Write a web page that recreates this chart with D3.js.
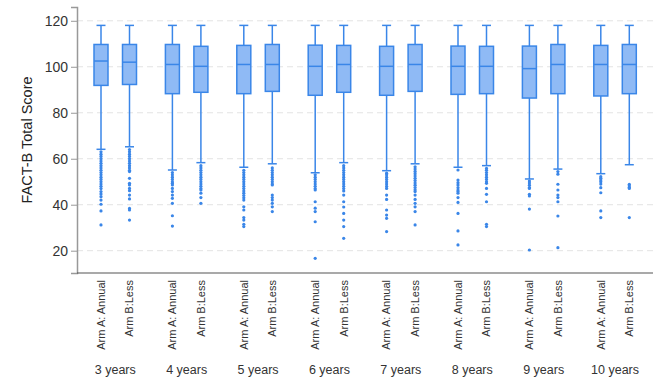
<!DOCTYPE html>
<html><head><meta charset="utf-8">
<script src="https://cdn.jsdelivr.net/npm/d3@7"></script>
<style>body{margin:0;background:#fff}svg{display:block}text{font-family:"Liberation Sans",Arial,sans-serif}</style>
</head><body><svg id="c" width="669" height="389"></svg>
<script>
const years = ["3 years","4 years","5 years","6 years","7 years","8 years","9 years","10 years"];
const arms = ["Arm A: Annual","Arm B:Less"];
const yTicks = [20,40,60,80,100,120];
// per box, order: 3yA,3yB,4yA,4yB,...
const upperWhisker = [118,118,118,118,118,118,118,118,118,118,118,118,118,118,118,118];
const q3 = [109.7,109.7,109.7,108.9,109.3,109.7,109.4,109.3,108.9,109.7,109.0,108.9,109.0,109.7,109.3,109.7];
const median = [102.5,102.0,101.0,100.2,101.0,101.0,100.2,101.0,100.2,101.0,100.2,100.2,99.2,101.0,101.0,101.0];
const q1 = [91.9,92.3,88.3,88.9,88.3,89.3,87.6,88.9,87.6,89.3,88.0,88.3,86.4,88.3,87.3,88.3];
const lowerWhisker = [64.1,65.2,55.1,58.3,56.3,57.8,53.9,58.3,54.8,57.8,56.3,57.0,51.2,55.5,53.5,57.4];
const outliers = [
  [63,62,61,60,59,58,57,56,55,54,53,52,51,50,49,48,47,45.7,44.7,43.5,42,40.2,37.3,31.2],
  [64,63,62,61,60,59,58,57,56,55,54.4,51.5,49.3,48.6,47.1,46.1,44.2,42.5,38.4,37.7,33.3],
  [54,53,52,51,50,49.3,48.6,47.1,45.7,44.2,42.8,40.6,35.2,30.7],
  [57,56,55,54,53,52,51,50,49,48,47,46.4,45,43.1,40.6],
  [55,54,53,52,51,50,49,48,47,46,45,44,43,42,39.1,37.7,34.4,33.3,31.5,30.5],
  [56,55,54,53,52,51,50,49,48.6,44.2,43.1,42,40.6,39.1,37.0],
  [53,52,51,50,49,48,47,46.4,41.3,38.5,37,32.6,16.7],
  [57,56,55,54,53,52,51,50,49,48,47,46,44.2,41.3,39,36.2,33.3,30.5,25.4],
  [53.7,53,52,51,50,49,48,47.1,44.2,42.3,37.7,35.5,34.1,28.3],
  [56.5,55.5,54.5,53.5,52.5,51.5,50.5,49.5,48.5,47.5,46.5,45.7,44.2,42.3,40.6,39.1,37,31.2],
  [55.1,50.7,49.6,48.6,47.4,46.4,45.7,45.0,43.1,41.0,36.2,28.6,22.5],
  [55.8,55,54,53,52,51,50,49.3,47.1,44.5,41.3,31.5,30.5],
  [50.3,49.5,48.5,47.5,47.1,44.5,43.8,38.1,20.3],
  [54.4,53.3,48.9,46.4,44.2,43.1,41.3,35.1,21.3],
  [52.2,51.5,50.7,50.0,49.0,47.4,45.2,37.3,34.4],
  [48.9,48.3,47.6,47.1,34.4]
];

const svg = d3.select("#c");
const fill = "#8fbaf5", stroke = "#3a86e8";
const y = d3.scaleLinear().domain([10.3,126]).range([273,7]);
const xg = d3.scaleBand().domain(years).range([79.55,650.75]);
const xa = d3.scalePoint().domain(arms).range([-14.25,14.25]);

const boxes = [];
years.forEach((yr,i)=>arms.forEach((a,j)=>{
  const k = i*2+j;
  boxes.push({yr,a,cx: xg(yr)+xg.bandwidth()/2+xa(a),
    hi:upperWhisker[k],q3:q3[k],med:median[k],q1:q1[k],lo:lowerWhisker[k],out:outliers[k]});
}));

// gridlines
svg.append("g").selectAll("line").data(yTicks).join("line")
  .attr("x1",77).attr("x2",653).attr("y1",d=>y(d)).attr("y2",d=>y(d))
  .attr("stroke","#e3e3e3").attr("stroke-width",1).attr("stroke-dasharray","6,4");

// y axis
const ya = svg.append("g").attr("transform","translate(77,0)")
  .call(d3.axisLeft(y).tickValues(yTicks).tickSize(6).tickPadding(3));
ya.select(".domain").attr("stroke","#999").attr("stroke-width",1.5);
ya.selectAll(".tick line").attr("stroke","#999");
ya.selectAll(".tick text").attr("fill","#333").style("font-size","14px");

// bottom axis line
svg.append("line").attr("x1",77).attr("x2",653).attr("y1",273).attr("y2",273)
  .attr("stroke","#555").attr("stroke-width",1.2);

const bw = 14, cw = 9;
const g = svg.append("g").selectAll("g").data(boxes).join("g");
g.append("line").attr("x1",d=>d.cx).attr("x2",d=>d.cx).attr("y1",d=>y(d.hi)).attr("y2",d=>y(d.lo))
  .attr("stroke",stroke).attr("stroke-width",1.5);
g.append("line").attr("x1",d=>d.cx-cw/2).attr("x2",d=>d.cx+cw/2).attr("y1",d=>y(d.hi)).attr("y2",d=>y(d.hi))
  .attr("stroke",stroke).attr("stroke-width",1.5);
g.append("line").attr("x1",d=>d.cx-cw/2).attr("x2",d=>d.cx+cw/2).attr("y1",d=>y(d.lo)).attr("y2",d=>y(d.lo))
  .attr("stroke",stroke).attr("stroke-width",1.5);
g.append("rect").attr("x",d=>d.cx-bw/2).attr("width",bw).attr("y",d=>y(d.q3)).attr("height",d=>y(d.q1)-y(d.q3))
  .attr("fill",fill).attr("stroke",stroke).attr("stroke-width",1.5);
g.append("line").attr("x1",d=>d.cx-bw/2).attr("x2",d=>d.cx+bw/2).attr("y1",d=>y(d.med)).attr("y2",d=>y(d.med))
  .attr("stroke",stroke).attr("stroke-width",1.5);
g.selectAll("circle").data(d=>d.out.map(v=>({cx:d.cx,v}))).join("circle")
  .attr("cx",d=>d.cx).attr("cy",d=>y(d.v)).attr("r",1.6).attr("fill",stroke);

// arm labels
svg.append("g").selectAll("text").data(boxes).join("text")
  .attr("transform",d=>`translate(${d.cx},280) rotate(-90)`)
  .attr("text-anchor","end").attr("dy","0.35em")
  .style("font-size","11px").attr("fill","#333").text(d=>d.a);

// group labels
svg.append("g").selectAll("text").data(years).join("text")
  .attr("x",d=>xg(d)+xg.bandwidth()/2).attr("y",374).attr("text-anchor","middle")
  .style("font-size","12.5px").attr("fill","#333").text(d=>d);

// y title
svg.append("text").attr("transform","translate(27,140) rotate(-90)").attr("text-anchor","middle")
  .attr("dy","0.35em").style("font-size","14.5px").attr("fill","#222").text("FACT-B Total Score");
</script></body></html>
